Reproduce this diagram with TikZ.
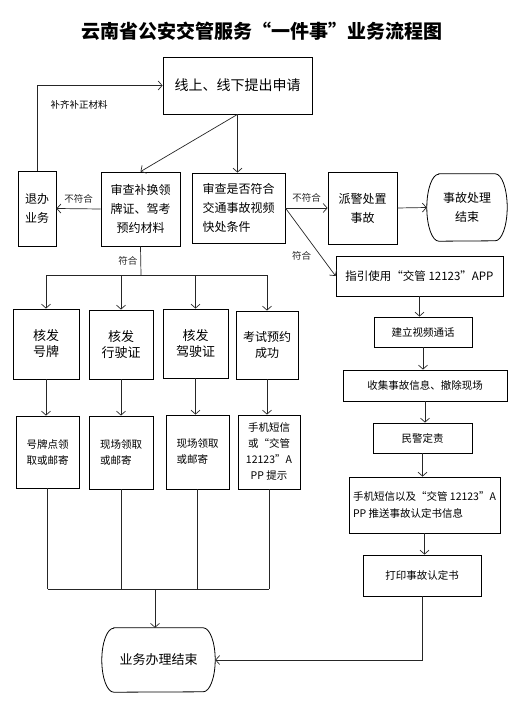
\documentclass[tikz,border=0pt]{standalone}
\usepackage{fontspec}
\setmainfont{Noto Sans CJK SC}
\usetikzlibrary{arrows.meta,positioning}

\begin{document}
\begin{tikzpicture}[x=1pt, y=-1pt,
    box/.style={draw, line width=0.8pt, inner sep=0pt, align=center, font=\fontsize{12}{19}\selectfont},
    small/.style={font=\fontsize{10.5}{16}\selectfont},
    term/.style={inner sep=0pt, align=center, font=\fontsize{12}{19}\selectfont},
    note/.style={inner sep=1pt, font=\fontsize{9.5}{11}\selectfont},
    arrow/.style={-{Straight Barb[length=4pt,width=9pt]}, line width=0.7pt, black!85},
    line/.style={line width=0.7pt, black!85}
]
\useasboundingbox (0,0) rectangle (529,708);

\node[font=\fontsize{19}{23}\bfseries] (title) at (262,31) {云南省公安交管服务“一件事”业务流程图};

% top and review row
\node[box, minimum width=149, minimum height=57, font=\fontsize{14}{18}\selectfont] (apply) at (237.5,85.5) {线上、线下提出申请};
\node[box, minimum width=38, minimum height=75] (quit) at (37,208.5) {退办\\业务};
\node[box, minimum width=79, minimum height=74] (chk) at (140.5,209) {审查补换领\\牌证、驾考\\预约材料};
\node[box, minimum width=93, minimum height=70, align=left] (quick) at (238.5,208) {审查是否符合\\交通事故视频\\快处条件};
\node[box, minimum width=69, minimum height=72] (dispatch) at (362.5,208) {派警处置\\事故};
\node[term, minimum width=80, minimum height=67] (closed) at (467,207.5) {事故处理\\结束};
\node[box, minimum width=167, minimum height=40, font=\fontsize{11.5}{14}\selectfont] (guide) at (419.5,276) {指引使用“交管 12123”APP};

% issue row
\node[box, minimum width=66, minimum height=70, font=\fontsize{13}{16}\selectfont] (plate) at (46,344) {核发\\号牌};
\node[box, minimum width=64, minimum height=69, font=\fontsize{13}{16}\selectfont] (vlic) at (121,344.5) {核发\\行驶证};
\node[box, minimum width=65, minimum height=69, font=\fontsize{13}{16}\selectfont] (dlic) at (195.5,343.5) {核发\\驾驶证};
\node[box, minimum width=62, minimum height=68, font=\fontsize{12}{16}\selectfont] (exam) at (267,345) {考试预约\\成功};

% delivery row
\node[box, small, minimum width=63, minimum height=72] (platego) at (47.5,452) {号牌点领\\取或邮寄};
\node[box, small, minimum width=64, minimum height=73, align=left] (vlicgo) at (121,452.5) {现场领取\\或邮寄};
\node[box, small, minimum width=63, minimum height=74, align=left] (dlicgo) at (197.5,452) {现场领取\\或邮寄};
\node[box, small, minimum width=62, minimum height=74] (examgo) at (269,452) {手机短信\\或“交管\\12123”A\\PP 提示};

% quick handling column
\node[box, small, minimum width=98, minimum height=30] (video) at (423,332) {建立视频通话};
\node[box, small, minimum width=164, minimum height=31] (collect) at (425,385.5) {收集事故信息、撤除现场};
\node[box, small, minimum width=99, minimum height=30] (duty) at (422.5,438) {民警定责};
\node[box, small, minimum width=151, minimum height=56, align=left, font=\fontsize{10.5}{17}\selectfont] (notify) at (424.5,505) {手机短信以及“交管 12123”A\\PP 推送事故认定书信息};
\node[box, small, minimum width=118, minimum height=41] (print) at (422,575.5) {打印事故认定书};

\node[term, minimum width=113, minimum height=64, font=\fontsize{13}{16}\selectfont] (done) at (158.5,660) {业务办理结束};

% rounded ends
\draw[line width=0.8pt] ([xshift=12pt]closed.north west) -- ([xshift=-12pt]closed.north east)
    arc[start angle=90, end angle=-90, x radius=12pt, y radius=33.5pt]
    -- ([xshift=12pt]closed.south west)
    arc[start angle=270, end angle=90, x radius=12pt, y radius=33.5pt] -- cycle;
\draw[line width=0.8pt] ([xshift=12pt]done.north west) -- ([xshift=-12pt]done.north east)
    arc[start angle=90, end angle=-90, x radius=12pt, y radius=32pt]
    -- ([xshift=12pt]done.south west)
    arc[start angle=270, end angle=90, x radius=12pt, y radius=32pt] -- cycle;

% connectors
\draw[arrow] (quit.north) |- (apply.west);
\node[note] (fix) at (79,105) {补齐补正材料};
\draw[arrow] (apply.south) -- (chk.north);
\draw[arrow] (apply.south) -- (apply.south |- quick.north);
\draw[arrow] (chk.west) -- node[note, above=4pt] {不符合} (quit.east);
\draw[arrow] (quick.east) -- node[note, above=4pt] {不符合} (dispatch.west);
\draw[arrow] (dispatch.east) -- (closed.west);
\draw[arrow] (quick.east) -- node[note, pos=0.7, left=8pt] {符合} (guide.west);

\coordinate (split) at (141,275);
\draw[line] (chk.south) -- node[note, left=2pt] {符合} (split);
\draw[line] (plate.north |- split) -- (exam.north |- split);
\foreach \n in {plate, vlic, dlic, exam}
    \draw[arrow] (\n.north |- split) -- (\n.north);
\foreach \a/\b in {plate/platego, vlic/vlicgo, dlic/dlicgo, exam/examgo}
    \draw[arrow] (\a.south) -- (\a.south |- \b.north);

\coordinate (join) at (155,589);
\foreach \n in {platego, vlicgo, dlicgo, examgo}
    \draw[line] (\n.south) -- (\n.south |- join);
\draw[line] (platego.south |- join) -- (examgo.south |- join);
\draw[arrow] (join) -- (join |- done.north);

\draw[arrow] (guide.south) -- (guide.south |- video.north);
\draw[arrow] (video.south) -- (video.south |- collect.north);
\draw[arrow] (collect.south) -- (collect.south |- duty.north);
\draw[arrow] (duty.south) -- (duty.south |- notify.north);
\draw[arrow] (notify.south) -- (notify.south |- print.north);
\draw[arrow] (print.south) |- (done.east);
\end{tikzpicture}
\end{document}
